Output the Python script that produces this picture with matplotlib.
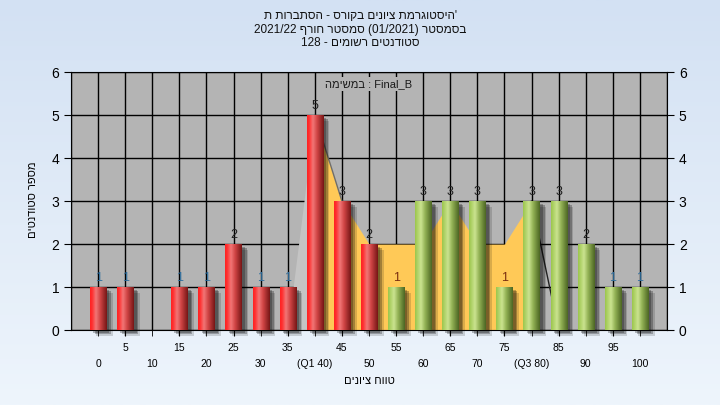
import numpy as np
import matplotlib.pyplot as plt
from matplotlib.colors import LinearSegmentedColormap
from matplotlib.patches import Rectangle

plt.rcParams['font.family'] = ['Liberation Sans', 'DejaVu Sans']

# grade bins and number of students in each
grades = [0, 5, 10, 15, 20, 25, 30, 35, 40, 45, 50,
          55, 60, 65, 70, 75, 80, 85, 90, 95, 100]
counts = [1, 1, 0, 1, 1, 2, 1, 1, 5, 3, 2,
          1, 3, 3, 3, 1, 3, 3, 2, 1, 1]
pass_grade = 55

# the "Final_B" assignment distribution drawn as an area
area_x = [40, 45, 50, 55, 60, 65, 70, 75, 80]
area_y = [5, 3, 2, 2, 2, 3, 2, 2, 3]
ramp_x = [35, 40]
ramp_y = [0, 5]
drop_x = [80, 85]
drop_y = [3, 0]

# tick labels (quartiles replace 40 and 80)
top_ticks = [5, 15, 25, 35, 45, 55, 65, 75, 85, 95]
bottom_ticks = [0, 10, 20, 30, 40, 50, 60, 70, 80, 90, 100]
bottom_labels = ['0', '10', '20', '30', '(Q1 40)', '50', '60', '70', '(Q3 80)', '90', '100']

# visual order strings (Hebrew rendered right to left)
def rtl(s):
    return s[::-1]

title_lines = [
    rtl('היסטוגרמת ציונים בקורס - הסתברות ת') + "'",
    '2021/22 ' + rtl('חורף') + ' ' + rtl('סמסטר') + ' (01/2021) ' + rtl('בסמסטר'),
    '128 - ' + rtl('רשומים') + ' ' + rtl('סטודנטים'),
]
legend_text = rtl('במשימה') + ' : Final_B'
xlabel = rtl('טווח ציונים')
ylabel = rtl('מספר סטודנטים')

fig = plt.figure(figsize=(7.2, 4.05), dpi=100)

# light blue gradient background
bg = fig.add_axes([0, 0, 1, 1], zorder=-10)
bg_cmap = LinearSegmentedColormap.from_list('bg', ['#D3E1F3', '#EEF5FC'])
bg.imshow(np.linspace(0, 1, 256).reshape(-1, 1), cmap=bg_cmap, aspect='auto',
          extent=(0, 1, 0, 1))
bg.axis('off')

ax = fig.add_axes([0.0986, 0.185, 0.8278, 0.637])
ax.set_facecolor('#B4B4B4')

red = LinearSegmentedColormap.from_list(
    'red', [(0, '#FF2222'), (0.12, '#FF3030'), (0.35, '#F27676'),
            (0.6, '#D04545'), (1, '#761616')])
green = LinearSegmentedColormap.from_list(
    'green', [(0, '#9BC64C'), (0.35, '#CBE390'), (0.6, '#93B255'),
              (1, '#4C6623')])

# grid
for g in np.arange(-5, 106, 5):
    ax.axvline(g, color='black', lw=1, zorder=1)
for y in range(0, 7):
    ax.axhline(y, color='black', lw=1, zorder=1)

# area series
ax.fill_between(ramp_x, ramp_y, color='#C4C4C4', lw=0, zorder=2)
ax.fill_between(area_x, area_y, color='#FFC957', lw=0, zorder=2)
ax.plot(area_x[:2], area_y[:2], color='#6E6E6E', lw=1, zorder=2.1)
ax.plot(drop_x, drop_y, color='#222222', lw=1, zorder=2.1)

w = 3.0
for x, v in zip(grades, counts):
    if v == 0:
        continue
    # soft shadow
    for dx, dy, a in [(0.6, -0.06, 0.25), (0.9, -0.1, 0.25), (1.2, -0.14, 0.15)]:
        ax.add_patch(Rectangle((x - w / 2 + dx, dy), w, v, color='black',
                               alpha=a, lw=0, zorder=3, clip_on=False))
    cmap = red if x < pass_grade else green
    ax.imshow(np.linspace(0, 1, 64).reshape(1, -1), cmap=cmap, aspect='auto',
              extent=(x - w / 2, x + w / 2, 0, v), zorder=4,
              interpolation='bilinear')
    # value label
    on_area = area_x[0] < x < area_x[-1] and v < np.interp(x, area_x, area_y)
    if v == 1:
        col = '#7A2E10' if on_area else '#2E6E9E'
    else:
        col = '#202020'
    ax.text(x, v + 0.08, str(v), ha='center', va='bottom', fontsize=9,
            color=col, zorder=6)

ax.set_xlim(-5, 105)
ax.set_ylim(0, 6)

ax.set_xticks(top_ticks)
ax.set_xticklabels([str(t) for t in top_ticks], fontsize=7.5)
ax.set_xticks(bottom_ticks, minor=True)
ax.set_xticklabels(bottom_labels, minor=True, fontsize=7.5)
ax.tick_params(axis='x', which='major', length=4, pad=5)
ax.tick_params(axis='x', which='minor', length=4, pad=17)

ax.set_yticks(range(0, 7))
ax.tick_params(axis='y', length=5, labelsize=10, right=True, labelright=True)

for s in ax.spines.values():
    s.set_color('black')

ax.text(0.5, 0.955, legend_text, transform=ax.transAxes, ha='center',
        va='center', fontsize=8, color='#1A1A1A', zorder=7,
        bbox=dict(facecolor='#B4B4B4', edgecolor='none', pad=1.5))

for i, line in enumerate(title_lines):
    fig.text(0.5, 1 - (16 + 13.5 * i) / 405, line, ha='center', va='center',
             fontsize=8.5, color='#111111')

fig.text(369 / 720, 1 - 381 / 405, xlabel, ha='center', va='center', fontsize=8)
fig.text(33 / 720, 1 - 200 / 405, ylabel, ha='center', va='center',
         fontsize=8, rotation=90)

fig.savefig('out.png', dpi=100)
